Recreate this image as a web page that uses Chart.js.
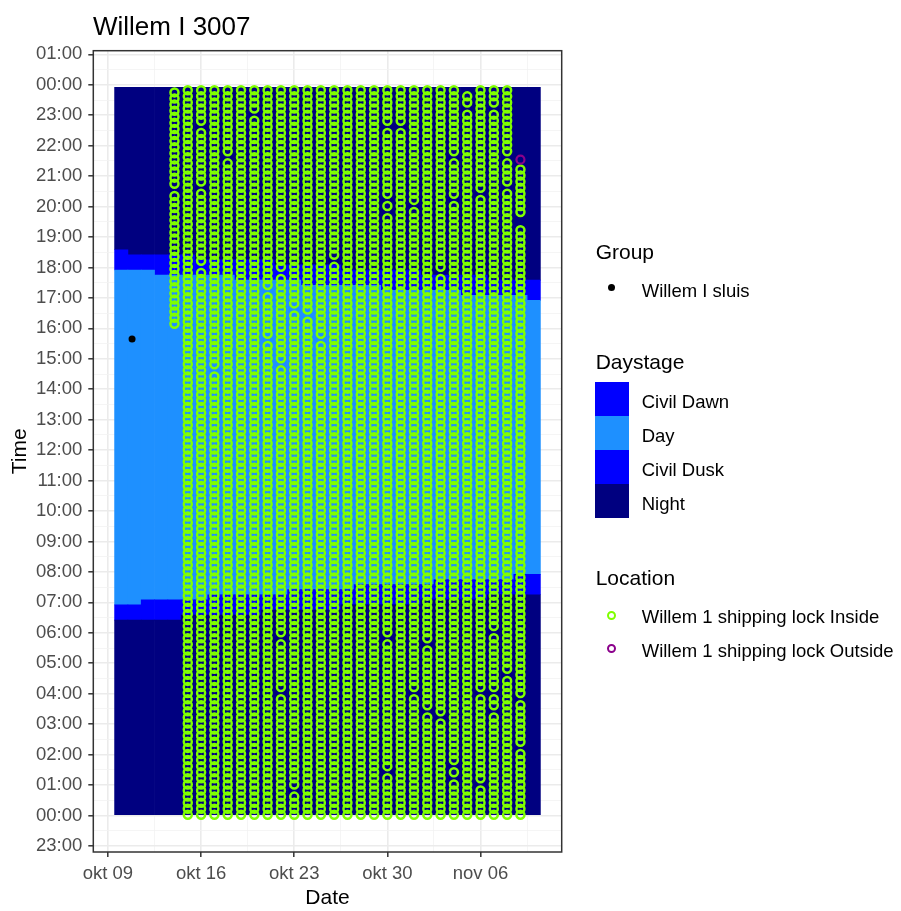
<!DOCTYPE html>
<html>
<head>
<meta charset="utf-8">
<title>Willem I 3007</title>
<script src="https://cdn.jsdelivr.net/npm/chart.js@4.4.0/dist/chart.umd.min.js"></script>
<style>
  html, body { margin: 0; padding: 0; background: #fff; }
  body { font-family: "Liberation Sans", Arial, sans-serif; }
  #wrap { position: relative; width: 901px; height: 911px; overflow: hidden; }
  #chart { position: absolute; left: 0; top: 0; }
  .txt { position: absolute; white-space: nowrap; color: #000; }
  .ttl { font-size: 21px; line-height: 21px; }
  .lab { font-size: 18.5px; line-height: 18.5px; }
  .key { position: absolute; left: 595.3px; width: 33.4px; height: 34.2px; }
  .dot { position: absolute; border-radius: 50%; box-sizing: border-box; }
</style>
</head>
<body>
<div id="wrap">
  <canvas id="chart" width="901" height="911"></canvas>

  <div class="txt" style="left:93px;top:13px;font-size:26px;line-height:26px">Willem I 3007</div>

  <div class="txt ttl" style="left:595.7px;top:240.5px">Group</div>
  <div class="dot" style="left:608.2px;top:283.8px;width:7px;height:7px;background:#000"></div>
  <div class="txt lab" style="left:641.7px;top:281.5px">Willem I sluis</div>

  <div class="txt ttl" style="left:595.7px;top:351.2px">Daystage</div>
  <div class="key" style="top:381.7px;background:#0000FF"></div>
  <div class="key" style="top:415.9px;background:#1E90FF"></div>
  <div class="key" style="top:450.1px;background:#0000FF"></div>
  <div class="key" style="top:484.3px;background:#000080"></div>
  <div class="txt lab" style="left:641.7px;top:392.5px">Civil Dawn</div>
  <div class="txt lab" style="left:641.7px;top:426.9px">Day</div>
  <div class="txt lab" style="left:641.7px;top:460.9px">Civil Dusk</div>
  <div class="txt lab" style="left:641.7px;top:495.2px">Night</div>

  <div class="txt ttl" style="left:595.7px;top:567.2px">Location</div>
  <div class="dot" style="left:607.2px;top:610.5px;width:9px;height:9px;border:2px solid #7FFF00"></div>
  <div class="txt lab" style="left:641.7px;top:607.5px">Willem 1 shipping lock Inside</div>
  <div class="dot" style="left:607.2px;top:643.8px;width:9px;height:9px;border:2px solid #8B008B"></div>
  <div class="txt lab" style="left:641.7px;top:641.5px">Willem 1 shipping lock Outside</div>
</div>
<script>
(function () {
  'use strict';

  // daystage per calendar day, boundaries in hours of the day
  var tileDates = [
    '2023-10-10', '2023-10-11', '2023-10-12', '2023-10-13', '2023-10-14', '2023-10-15',
    '2023-10-16', '2023-10-17', '2023-10-18', '2023-10-19', '2023-10-20', '2023-10-21',
    '2023-10-22', '2023-10-23', '2023-10-24', '2023-10-25', '2023-10-26', '2023-10-27',
    '2023-10-28', '2023-10-29', '2023-10-30', '2023-10-31', '2023-11-01', '2023-11-02',
    '2023-11-03', '2023-11-04', '2023-11-05', '2023-11-06', '2023-11-07', '2023-11-08',
    '2023-11-09', '2023-11-10'
  ];
  var dawnStart = [
    6.417, 6.417, 6.417, 6.417, 6.417, 6.583, 6.583, 6.583, 6.583, 6.583, 6.583, 6.75,
    6.75, 6.75, 6.75, 6.75, 6.75, 6.917, 6.917, 6.917, 6.917, 6.917, 6.917, 7.083,
    7.083, 7.083, 7.083, 7.083, 7.25, 7.25, 7.25, 7.25
  ];
  var dayStart = [
    6.917, 6.917, 7.083, 7.083, 7.083, 7.083, 7.083, 7.25, 7.25, 7.25, 7.25, 7.25,
    7.25, 7.417, 7.417, 7.417, 7.417, 7.417, 7.583, 7.583, 7.583, 7.583, 7.583, 7.583,
    7.75, 7.75, 7.75, 7.75, 7.75, 7.75, 7.917, 7.917
  ];
  var duskStart = [
    17.917, 17.917, 17.917, 17.75, 17.75, 17.75, 17.75, 17.75, 17.75, 17.583, 17.583, 17.583,
    17.583, 17.583, 17.417, 17.417, 17.417, 17.417, 17.417, 17.417, 17.25, 17.25, 17.25, 17.25,
    17.25, 17.25, 17.083, 17.083, 17.083, 17.083, 17.083, 16.917
  ];
  var nightStart = [
    18.583, 18.417, 18.417, 18.417, 18.417, 18.417, 18.25, 18.25, 18.25, 18.25, 18.25, 18.25,
    18.083, 18.083, 18.083, 18.083, 18.083, 17.917, 17.917, 17.917, 17.917, 17.917, 17.917, 17.75,
    17.75, 17.75, 17.75, 17.75, 17.583, 17.583, 17.583, 17.583
  ];
  var dayFirst = 0;
  var dayLast = 23.917;

  // detections at the inside receiver: first / last hour per day, and missed pings
  var insideDates = [
    '2023-10-14', '2023-10-15', '2023-10-16', '2023-10-17', '2023-10-18', '2023-10-19',
    '2023-10-20', '2023-10-21', '2023-10-22', '2023-10-23', '2023-10-24', '2023-10-25',
    '2023-10-26', '2023-10-27', '2023-10-28', '2023-10-29', '2023-10-30', '2023-10-31',
    '2023-11-01', '2023-11-02', '2023-11-03', '2023-11-04', '2023-11-05', '2023-11-06',
    '2023-11-07', '2023-11-08', '2023-11-09'
  ];
  var insideFirst = [
    16.15, 0.02, 0.02, 0.02, 0.02, 0.02, 0.02, 0.02, 0.02, 0.02, 0.02, 0.02, 0.02, 0.02,
    0.02, 0.02, 0.02, 0.02, 0.02, 0.02, 0.02, 0.02, 0.02, 0.02, 0.02, 0.02, 0.02
  ];
  var insideLast = [
    23.92, 23.92, 23.92, 23.92, 23.92, 23.92, 23.92, 23.92, 23.92, 23.92, 23.92, 23.92,
    23.92, 23.92, 23.92, 23.92, 23.92, 23.92, 23.92, 23.92, 23.92, 23.92, 23.92, 23.92,
    23.92, 23.92, 21.37
  ];
  var insideGaps = [
    [20.47], [], [22.55, 20.58, 18.0], [14.7], [21.68], [],
    [22.94], [17.27, 15.57], [17.81, 14.86, 5.9, 4.1], [16.61, 0.9], [16.5], [15.53],
    [18.14], [], [], [], [22.63, 20.12, 19.78, 5.83, 1.5], [22.52],
    [20.05, 4.03], [5.67, 3.37], [17.8, 3.15], [21.58, 20.13, 1.62, 1.18], [23.8, 23.15], [20.43, 4.0, 1.0],
    [23.12, 6.0, 4.03, 3.47], [21.58, 20.66, 4.67], [19.4, 19.6, 3.82, 2.18]
  ];

  var outsideDates = ['2023-11-09'];
  var outsideTimes = [21.54];

  var groupWhen = ['2023-10-10T19:30'];
  var groupTimes = [15.65];

  var xTickDates = ['2023-10-09', '2023-10-16', '2023-10-23', '2023-10-30', '2023-11-06'];
  var xTickLabels = ['okt 09', 'okt 16', 'okt 23', 'okt 30', 'nov 06'];
  var yTickHours = [-1, 0, 1, 2, 3, 4, 5, 6, 7, 8, 9, 10, 11, 12, 13, 14, 15, 16, 17, 18, 19, 20, 21, 22, 23, 24, 25];
  var yTickLabels = [
    '23:00', '00:00', '01:00', '02:00', '03:00', '04:00', '05:00', '06:00', '07:00', '08:00',
    '09:00', '10:00', '11:00', '12:00', '13:00', '14:00', '15:00', '16:00', '17:00', '18:00',
    '19:00', '20:00', '21:00', '22:00', '23:00', '00:00', '01:00'
  ];

  var PING_HOURS = 0.2;   // receiver logging interval
  var GAP_HALF = 0.1;

  var ORIGIN = Date.UTC(2023, 9, 9);
  function dayNum(iso) {
    var p = iso.split(/[-T:]/);
    return (Date.UTC(+p[0], +p[1] - 1, +p[2], +(p[3] || 0), +(p[4] || 0)) - ORIGIN) / 864e5;
  }

  function band(lo, hi) {
    return tileDates.map(function (d, i) {
      var a = typeof lo === 'number' ? lo : lo[i];
      var b = typeof hi === 'number' ? hi : hi[i];
      return { x: dayNum(d), y: [a, b] };
    });
  }

  function insidePoints() {
    var pts = [];
    insideDates.forEach(function (d, i) {
      var x = dayNum(d);
      for (var t = insideFirst[i]; t <= insideLast[i] + 1e-6; t += PING_HOURS) {
        var missed = insideGaps[i].some(function (g) { return Math.abs(t - g) < GAP_HALF; });
        if (!missed) pts.push({ x: x, y: t });
      }
    });
    return pts;
  }

  function tileSet(data, color) {
    return {
      type: 'bar',
      data: data,
      backgroundColor: color,
      borderWidth: 0,
      grouped: false,
      barPercentage: 1,
      categoryPercentage: 1,
      order: 10
    };
  }

  function minorBetween(values) {
    var out = [];
    for (var i = 0; i < values.length - 1; i++) out.push((values[i] + values[i + 1]) / 2);
    return out;
  }

  var xMajor = xTickDates.map(dayNum);
  var xMinor = minorBetween(xMajor).concat([xMajor[xMajor.length - 1] + 3.5]);
  var yMinor = minorBetween(yTickHours);

  function tickList(major, minor) {
    return major.map(function (v) { return { value: v, minor: false }; })
      .concat(minor.map(function (v) { return { value: v, minor: true }; }))
      .sort(function (a, b) { return a.value - b.value; });
  }

  function gridColor(ctx) { return ctx.tick && ctx.tick.minor ? '#F2F2F2' : '#EBEBEB'; }
  function gridWidth(ctx) { return ctx.tick && ctx.tick.minor ? 0.8 : 1.6; }
  function tickColor(ctx) { return ctx.tick && ctx.tick.minor ? 'rgba(0,0,0,0)' : '#333333'; }

  var panelBorder = {
    id: 'panelBorder',
    afterDraw: function (chart) {
      var a = chart.chartArea;
      var c = chart.ctx;
      c.save();
      c.strokeStyle = '#333333';
      c.lineWidth = 1.5;
      c.strokeRect(a.left, a.top, a.right - a.left, a.bottom - a.top);
      c.restore();
    }
  };

  var tickFont = { family: '"Liberation Sans", Arial, sans-serif', size: 18.5 };
  var titleFont = { family: '"Liberation Sans", Arial, sans-serif', size: 21 };

  new Chart(document.getElementById('chart'), {
    type: 'bar',
    data: {
      datasets: [
        {
          type: 'scatter',
          data: groupWhen.map(function (w, i) { return { x: dayNum(w), y: groupTimes[i] }; }),
          pointRadius: 3.5,
          pointBackgroundColor: '#000000',
          pointBorderWidth: 0,
          order: 0
        },
        {
          type: 'scatter',
          data: outsideDates.map(function (d, i) { return { x: dayNum(d), y: outsideTimes[i] }; }),
          pointRadius: 4,
          pointBackgroundColor: 'rgba(0,0,0,0)',
          pointBorderColor: '#8B008B',
          pointBorderWidth: 2.2,
          order: 1
        },
        {
          type: 'scatter',
          data: insidePoints(),
          pointRadius: 4,
          pointBackgroundColor: 'rgba(0,0,0,0)',
          pointBorderColor: '#7FFF00',
          pointBorderWidth: 2.5,
          order: 2
        },
        tileSet(band(dayFirst, dawnStart), '#000080'),
        tileSet(band(dawnStart, dayStart), '#0000FF'),
        tileSet(band(dayStart, duskStart), '#1E90FF'),
        tileSet(band(duskStart, nightStart), '#0000FF'),
        tileSet(band(nightStart, dayLast), '#000080')
      ]
    },
    options: {
      responsive: false,
      animation: false,
      events: [],
      layout: { padding: { top: 50.7, right: 339.3, left: 0, bottom: 0 } },
      plugins: { legend: { display: false }, tooltip: { enabled: false }, title: { display: false } },
      scales: {
        x: {
          type: 'linear',
          min: -1.1,
          max: 34.1,
          offset: false,
          border: { display: false },
          grid: { offset: false, color: gridColor, lineWidth: gridWidth, tickColor: tickColor, tickLength: 5, tickWidth: 1.5 },
          ticks: {
            autoSkip: false,
            maxRotation: 0,
            padding: 6,
            color: '#4D4D4D',
            font: tickFont,
            callback: function (value) {
              var i = xMajor.indexOf(value);
              return i >= 0 ? xTickLabels[i] : '';
            }
          },
          title: { display: true, text: 'Date', color: '#000000', font: titleFont, padding: { top: 0, bottom: 0 } },
          afterBuildTicks: function (scale) { scale.ticks = tickList(xMajor, xMinor); },
          afterFit: function (scale) { scale.height = 59; }
        },
        y: {
          type: 'linear',
          min: -1.2,
          max: 25.12,
          border: { display: false },
          grid: { color: gridColor, lineWidth: gridWidth, tickColor: tickColor, tickLength: 5, tickWidth: 1.5 },
          ticks: {
            autoSkip: false,
            padding: 6,
            color: '#4D4D4D',
            font: tickFont,
            callback: function (value) {
              var i = yTickHours.indexOf(value);
              return i >= 0 ? yTickLabels[i] : '';
            }
          },
          title: { display: true, text: 'Time', color: '#000000', font: titleFont, padding: { top: 8, bottom: 0 } },
          afterBuildTicks: function (scale) { scale.ticks = tickList(yTickHours, yMinor); },
          afterFit: function (scale) { scale.width = 93.3; }
        }
      }
    },
    plugins: [panelBorder]
  });
})();
</script>
</body>
</html>
